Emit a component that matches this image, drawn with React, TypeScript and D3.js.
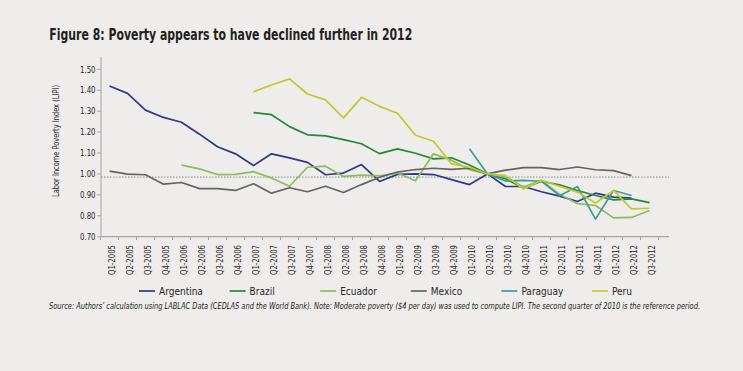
import React, { useEffect } from "react";
import * as d3 from "d3";

const quarters: string[] = [];
for (let y = 2005; y <= 2012; y++) {
  for (let q = 1; q <= 4; q++) {
    if (y === 2012 && q > 3) break;
    quarters.push(`Q${q}-${y}`);
  }
}

const yTicks = [0.7, 0.8, 0.9, 1.0, 1.1, 1.2, 1.3, 1.4, 1.5];

const N: null = null;
const argentina = [1.42, 1.385, 1.305, 1.27, 1.247, 1.19, 1.13, 1.096, 1.04, 1.096, 1.077, 1.055, 0.996, 1.004, 1.045, 0.964, 0.998, 1.0, 0.997, 0.973, 0.949, 1.0, 0.94, 0.94, 0.915, 0.894, 0.868, 0.908, 0.889, 0.884, N];
const brazil = [N, N, N, N, N, N, N, N, 1.293, 1.283, 1.226, 1.187, 1.182, 1.164, 1.144, 1.097, 1.12, 1.099, 1.072, 1.077, 1.043, 1.0, 0.977, 0.932, 0.965, 0.948, 0.921, 0.897, 0.876, 0.881, 0.863];
const ecuador = [N, N, N, N, 1.042, 1.024, 0.997, 0.998, 1.011, 0.981, 0.941, 1.032, 1.037, 0.988, 0.994, 0.991, 1.004, 0.967, 1.096, 1.065, 1.02, 1.0, 0.986, 0.937, 0.969, 0.903, 0.858, 0.849, 0.79, 0.792, 0.825];
const mexico = [1.013, 0.999, 0.996, 0.951, 0.959, 0.93, 0.93, 0.921, 0.953, 0.908, 0.934, 0.915, 0.941, 0.911, 0.949, 0.984, 1.009, 1.021, 1.027, 1.022, 1.027, 1.0, 1.018, 1.03, 1.03, 1.021, 1.033, 1.02, 1.016, 0.992, N];
const paraguay = [N, N, N, N, N, N, N, N, N, N, N, N, N, N, N, N, N, N, N, N, 1.12, 1.0, 0.966, 0.969, 0.965, 0.896, 0.94, 0.784, 0.921, 0.897, N];
const peru = [N, N, N, N, N, N, N, N, 1.393, 1.425, 1.454, 1.382, 1.354, 1.268, 1.366, 1.323, 1.29, 1.185, 1.156, 1.048, 1.032, 1.0, 0.992, 0.928, 0.97, 0.941, 0.913, 0.861, 0.921, 0.833, 0.836];

const seriesNames = ["Argentina", "Brazil", "Ecuador", "Mexico", "Paraguay", "Peru"];
const seriesValues = [argentina, brazil, ecuador, mexico, paraguay, peru];
const seriesColors = ["#2f3a86", "#23883a", "#8cbc5c", "#646464", "#3f9c9c", "#c3c82c"];
const referenceValue = 0.985;

const sourceText =
  "Source: Authors’ calculation using LABLAC Data (CEDLAS and the World Bank). Note: Moderate poverty ($4 per day) was used to compute LIPI. The second quarter of 2010 is the reference period.";

const W = 743;
const H = 371;
const FONT = "'Liberation Sans Narrow', 'DejaVu Sans Condensed', 'Open Sans', sans-serif";

export default function App() {
  useEffect(() => {
    document.body.style.margin = "0";
  }, []);

  const x = d3.scaleBand<string>().domain(quarters).range([100.5, 658.5]).padding(0);
  const y = d3.scaleLinear().domain([0.7, 1.5]).range([236.7, 69.3]);
  const cx = (q: string) => (x(q) as number) + x.bandwidth() / 2;

  const line = d3
    .line<number | null>()
    .defined((d) => d !== null)
    .x((_, i) => cx(quarters[i]))
    .y((d) => y(d as number));

  const axisColor = "#a3a3a3";
  const textColor = "#262626";

  return (
    <svg width={W} height={H} style={{ position: "absolute", left: 0, top: 0, display: "block" }} fontFamily={FONT}>
      <rect x={0} y={0} width={W} height={H} fill="#eeedeb" />
      <text x={49.3} y={39.5} fontSize={16} fontWeight="bold" fill="#231f20" textLength={363} lengthAdjust="spacingAndGlyphs">
        Figure 8: Poverty appears to have declined further in 2012
      </text>

      {/* y axis */}
      <line x1={101} x2={101} y1={57} y2={236.7} stroke={axisColor} strokeWidth={1} />
      {yTicks.map((t) => (
        <g key={t}>
          <line x1={97} x2={101} y1={y(t)} y2={y(t)} stroke={axisColor} strokeWidth={1} />
          <text x={95.5} y={y(t) + 3.2} fontSize={9.5} textAnchor="end" fill={textColor} textLength={15.5} lengthAdjust="spacingAndGlyphs">
            {t.toFixed(2)}
          </text>
        </g>
      ))}
      <text transform="translate(58.5,141) rotate(-90)" fontSize={9.5} textAnchor="middle" fill={textColor} textLength={112} lengthAdjust="spacingAndGlyphs">
        Labor Income Poverty Index (LIPI)
      </text>

      {/* x axis */}
      <line x1={101} x2={669} y1={236.7} y2={236.7} stroke={axisColor} strokeWidth={1.2} />
      {quarters.map((q, i) => (
        <line key={"t" + i} x1={x(q) as number} x2={x(q) as number} y1={236.7} y2={240} stroke={axisColor} strokeWidth={1} />
      ))}
      <line x1={658.5} x2={658.5} y1={236.7} y2={240} stroke={axisColor} strokeWidth={1} />
      {quarters.map((q) => (
        <text key={q} transform={`translate(${cx(q) + 5},245) rotate(-90)`} fontSize={9} textAnchor="end" fill={textColor} textLength={30} lengthAdjust="spacingAndGlyphs">
          {q}
        </text>
      ))}

      {/* reference line */}
      <line x1={101} x2={669} y1={y(referenceValue)} y2={y(referenceValue)} stroke="#a0a0a0" strokeWidth={1.3} strokeDasharray="1.5,1.5" />

      {/* series */}
      {seriesValues.map((vals, k) => (
        <path key={seriesNames[k]} d={line(vals) || ""} fill="none" stroke={seriesColors[k]} strokeWidth={1.7} strokeLinejoin="round" />
      ))}

      {/* legend */}
      {seriesNames.map((name, k) => {
        const lx = 139 + k * 90.6;
        return (
          <g key={"lg" + name}>
            <line x1={lx} x2={lx + 16} y1={291} y2={291} stroke={seriesColors[k]} strokeWidth={1.7} />
            <text x={lx + 20} y={294.5} fontSize={10} fill={textColor}>
              {name}
            </text>
          </g>
        );
      })}

      <text transform="translate(49,308.5) scale(1,1.2)" x={0} y={0} fontSize={7.4} fontStyle="italic" fill="#231f20" textLength={651} lengthAdjust="spacingAndGlyphs">
        {sourceText}
      </text>
    </svg>
  );
}
